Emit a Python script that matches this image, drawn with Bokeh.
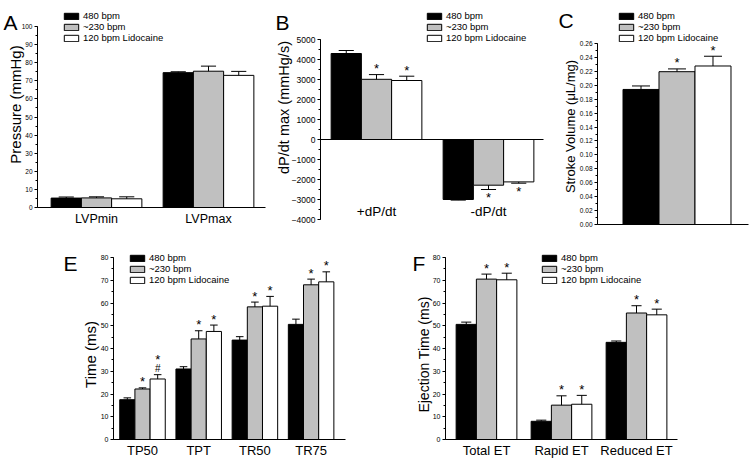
import math
from bokeh.plotting import figure
from bokeh.models import (Range1d, SingleIntervalTicker, FixedTicker, Label,
                          Legend, LegendItem, NumeralTickFormatter, ColumnDataSource)
from bokeh.layouts import column, row
from bokeh.core.properties import value
from bokeh.embed import file_html
from bokeh.resources import INLINE

FONT = "Liberation Sans"
SERIES = ["480 bpm", "~230 bpm", "120 bpm Lidocaine"]
COLORS = ["#000000", "#c0c0c0", "#ffffff"]

# ---- Panel A: pressure (mmHg)
A_cats = ["LVPmin", "LVPmax"]
A_480 = [5.2, 74.5]
A_480_err = [0.6, 0.5]
A_230 = [5.3, 75.3]
A_230_err = [0.6, 2.8]
A_lido = [4.8, 73.0]
A_lido_err = [1.1, 2.2]
A_sig = [["", ""], ["", ""], ["", ""]]
A_yticks = (0, 100, 10)

# ---- Panel B: dP/dt max (mmHg/s)
B_cats = ["+dP/dt", "-dP/dt"]
B_480 = [4300, -3000]
B_480_err = [150, 30]
B_230 = [3010, -2285]
B_230_err = [235, 215]
B_lido = [2950, -2120]
B_lido_err = [215, 65]
B_sig = [["", ""], ["*", "*"], ["*", "*"]]
B_yticks = (-4000, 5000, 1000)

# ---- Panel C: stroke volume (uL/mg)
C_cats = [""]
C_480 = [0.194]
C_480_err = [0.005]
C_230 = [0.2195]
C_230_err = [0.004]
C_lido = [0.2277]
C_lido_err = [0.014]
C_sig = [[""], ["*"], ["*"]]
C_yticks = (0, 0.26, 0.02)

# ---- Panel E: time (ms)
E_cats = ["TP50", "TPT", "TR50", "TR75"]
E_480 = [17.5, 31.0, 43.7, 50.6]
E_480_err = [0.8, 1.0, 1.5, 2.3]
E_230 = [22.2, 44.2, 58.3, 68.0]
E_230_err = [0.5, 3.6, 2.1, 2.5]
E_lido = [26.6, 47.5, 58.6, 69.3]
E_lido_err = [1.9, 2.8, 4.3, 4.4]
E_sig = [["", "", "", ""], ["*", "*", "*", "*"], ["*#", "*", "*", "*"]]
E_yticks = (0, 80, 10)

# ---- Panel F: ejection time (ms)
F_cats = ["Total ET", "Rapid ET", "Reduced ET"]
F_480 = [50.6, 8.0, 42.7]
F_480_err = [1.0, 0.5, 0.6]
F_230 = [70.5, 15.1, 55.6]
F_230_err = [2.2, 4.1, 3.2]
F_lido = [70.2, 15.5, 54.8]
F_lido_err = [2.9, 3.9, 2.5]
F_sig = [["", "", ""], ["*", "*", "*"], ["*", "*", "*"]]
F_yticks = (0, 80, 10)

BAR_W = 0.27


class Panel:
    """Figure whose frame covers the whole canvas; axes sit at fixed data locations."""

    def __init__(self, fig_box, ax_box, xvals, yvals):
        fx0, fy0, fx1, fy1 = fig_box
        ax0, ay_top, ax1, ay_bot = ax_box
        ux = (xvals[1] - xvals[0]) / (ax1 - ax0)
        uy = (yvals[1] - yvals[0]) / (ay_bot - ay_top)
        xr = (xvals[0] - (ax0 - fx0) * ux, xvals[1] + (fx1 - ax1) * ux)
        yr = (yvals[0] - (fy1 - ay_bot) * uy, yvals[1] + (ay_top - fy0) * uy)
        self.fx0, self.fy1 = fx0, fy1
        self.xvals, self.yvals = xvals, yvals
        p = figure(width=fx1 - fx0, height=fy1 - fy0, title=None,
                   min_border_left=0, min_border_right=0, min_border_top=0,
                   min_border_bottom=0, x_range=Range1d(*xr), y_range=Range1d(*yr),
                   output_backend="svg", toolbar_location=None)
        p.outline_line_color = None
        p.grid.visible = False
        p.background_fill_color = "white"
        p.border_fill_color = "white"
        self.p = p

    def sx(self, px):
        return px - self.fx0

    def sy(self, py):
        return self.fy1 - py

    def yaxis(self, ticks, fs, fmt=None):
        lo, hi, step = ticks
        ax = self.p.yaxis[0]
        ax.fixed_location = self.xvals[0]
        ax.bounds = (lo, hi)
        ax.ticker = SingleIntervalTicker(interval=step, num_minor_ticks=2)
        ax.major_tick_out = 3
        ax.major_tick_in = 0
        ax.minor_tick_out = 2
        ax.minor_tick_in = 0
        ax.major_label_text_font = FONT
        ax.major_label_text_font_size = fs
        ax.major_label_text_color = "black"
        ax.major_label_standoff = 2
        ax.axis_line_color = "black"
        ax.major_tick_line_color = "black"
        ax.minor_tick_line_color = "black"
        if fmt is not None:
            ax.formatter = NumeralTickFormatter(format=fmt)

    def xaxis(self, cats, fs, standoff, at=None):
        ax = self.p.xaxis[0]
        ax.fixed_location = self.yvals[0] if at is None else at
        ax.bounds = self.xvals
        if cats:
            ax.ticker = FixedTicker(ticks=[i + 1 for i in range(len(cats))])
            ax.major_label_overrides = {i + 1: c for i, c in enumerate(cats)}
        else:
            ax.ticker = FixedTicker(ticks=[])
        ax.major_tick_out = 0
        ax.major_tick_in = 0
        ax.minor_tick_out = 0
        ax.minor_tick_in = 0
        ax.major_label_text_font = FONT
        ax.major_label_text_font_size = fs
        ax.major_label_text_color = "black"
        ax.major_label_standoff = standoff
        ax.axis_line_color = "black"

    def bars(self, ncat, means, errs, sigs, star_fs="13px"):
        p = self.p
        offsets = [-BAR_W, 0.0, BAR_W]
        items = []
        for k in range(3):
            xs = [i + 1 + offsets[k] for i in range(ncat)]
            src = ColumnDataSource(dict(x=xs, top=means[k]))
            r = p.vbar(x="x", top="top", bottom=0, width=BAR_W, source=src,
                       fill_color=COLORS[k], line_color="black", line_width=1)
            items.append(LegendItem(label=SERIES[k], renderers=[r]))
            ends = [m + (e if m >= 0 else -e) for m, e in zip(means[k], errs[k])]
            p.segment(x0=xs, y0=means[k], x1=xs, y1=ends, line_color="black", line_width=1)
            p.segment(x0=[x - BAR_W / 4 for x in xs], y0=ends,
                      x1=[x + BAR_W / 4 for x in xs], y1=ends,
                      line_color="black", line_width=1)
            for x, m, e, s in zip(xs, means[k], ends, sigs[k]):
                if not s:
                    continue
                marks = []
                if m < 0:
                    marks.append(("*", 8, star_fs))
                elif "#" in s:
                    marks.append(("#", -6, "10px"))
                    marks.append(("*", -15, star_fs))
                else:
                    marks.append(("*", -6, star_fs))
                for t, off, fs in marks:
                    p.text(x=[x], y=[e], text=[t], text_align="center",
                           text_baseline="alphabetic", y_offset=off,
                           text_font=value(FONT), text_font_size=fs, text_color="black")
        self.items = items

    def legend(self, glyph_left, bottom):
        leg = Legend(items=self.items, location=(self.sx(glyph_left), self.sy(bottom)),
                     orientation="vertical", glyph_width=18, glyph_height=8,
                     label_height=10, label_width=20, label_standoff=3, spacing=0,
                     padding=0, margin=0, border_line_color=None, background_fill_alpha=0,
                     label_text_font=FONT, label_text_font_size="9.5px",
                     label_text_color="black")
        self.p.add_layout(leg)

    def label(self, px, py, text, fs, angle=0.0, align="center", baseline="middle"):
        self.p.add_layout(Label(x=self.sx(px), y=self.sy(py), x_units="screen",
                                y_units="screen", text=text, angle=angle,
                                text_align=align, text_baseline=baseline,
                                text_font=FONT, text_font_size=fs, text_color="black"))


# ---------------- Panel A
A = Panel((0, 0, 272, 230), (37, 26, 265, 207), (1 - 59 / 112, 2 + 57 / 112), (0, 100))
A.bars(2, [A_480, A_230, A_lido], [A_480_err, A_230_err, A_lido_err], A_sig)
A.yaxis(A_yticks, "6.5px")
A.xaxis(A_cats, "12.5px", 4)
A.legend(62, 43)
A.label(15, 104, "Pressure (mmHg)", "15px", angle=math.pi / 2)
A.label(3, 22, "A", "21px", align="left", baseline="alphabetic")

# ---------------- Panel B
B = Panel((272, 0, 550, 230), (320, 39, 543, 219), (0.5, 2 + 55 / 112), (-4000, 5000))
B.bars(2, [B_480, B_230, B_lido], [B_480_err, B_230_err, B_lido_err], B_sig)
B.yaxis(B_yticks, "8.5px")
B.xaxis([], "1px", 0, at=0)
B.p.text(x=[i + 1 for i in range(len(B_cats))], y=[-3600] * len(B_cats), text=B_cats,
         text_align="center", text_baseline="middle", text_font=value(FONT),
         text_font_size="13.5px", text_color="black")
B.legend(425, 43)
B.label(283, 107, "dP/dt max (mmHg/s)", "14.5px", angle=math.pi / 2)
B.label(275, 22, "B", "21px", align="left", baseline="alphabetic")

# ---------------- Panel C
C = Panel((550, 0, 751, 230), (597, 43, 748, 224),
          (1 - 79.5 / 133.3, 1 + 71.5 / 133.3), (0, 0.26))
C.bars(1, [C_480, C_230, C_lido], [C_480_err, C_230_err, C_lido_err], C_sig)
C.yaxis(C_yticks, "6.5px", fmt="0.00")
C.xaxis([], "1px", 0)
C.legend(617, 43)
C.label(570, 126, "Stroke Volume (\u03bcL/mg)", "13px", angle=math.pi / 2)
C.label(558, 20, "C", "21px", align="left", baseline="alphabetic")

# ---------------- Panel E
E = Panel((0, 230, 380, 459), (113, 257, 345, 439), (1 - 29 / 56.2, 4 + 34.4 / 56.2), (0, 80))
E.bars(4, [E_480, E_230, E_lido], [E_480_err, E_230_err, E_lido_err], E_sig)
E.yaxis(E_yticks, "7px")
E.xaxis(E_cats, "13px", 3)
E.legend(128, 285)
E.label(90, 354, "Time (ms)", "15px", angle=math.pi / 2)
E.label(63, 263, "E", "21px", align="left", baseline="alphabetic")

# ---------------- Panel F
F = Panel((380, 230, 751, 459), (445, 257, 677, 439), (1 - 41 / 75, 3 + 41 / 75), (0, 80))
F.bars(3, [F_480, F_230, F_lido], [F_480_err, F_230_err, F_lido_err], F_sig)
F.yaxis(F_yticks, "7px")
F.xaxis(F_cats, "13px", 3)
F.legend(540, 285)
F.label(423, 354, "Ejection Time (ms)", "14px", angle=math.pi / 2)
F.label(412, 263, "F", "21px", align="left", baseline="alphabetic")

layout = column(row(A.p, B.p, C.p), row(E.p, F.p))
open("out.html", "w").write(file_html(layout, INLINE))
